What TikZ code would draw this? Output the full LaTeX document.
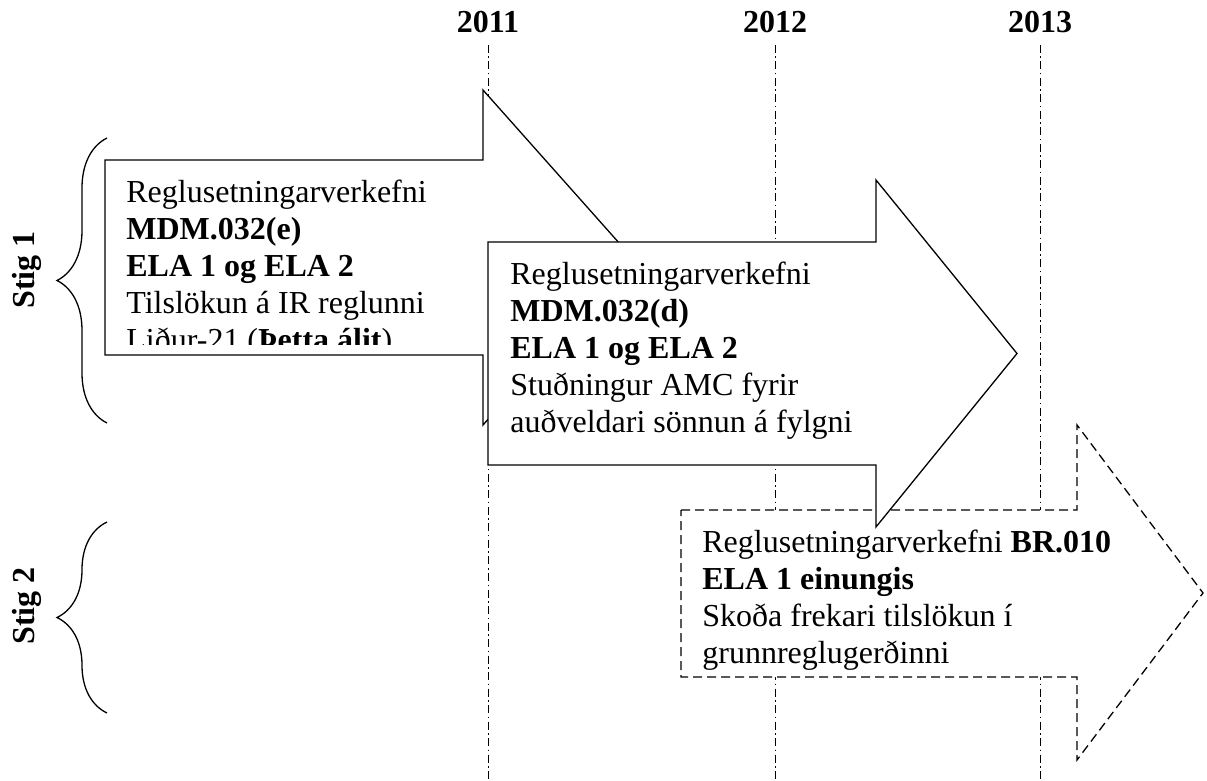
\documentclass[tikz,border=0pt]{standalone}
\usepackage{fontspec}
\setmainfont{Liberation Serif}
\usetikzlibrary{decorations.pathreplacing}

\begin{document}
\begin{tikzpicture}[x=0.5pt, y=-0.5pt,
    yearline/.style={line width=0.5pt, dash pattern=on 4pt off 1.75pt on 0.75pt off 1.75pt},
    arrowbox/.style={line width=0.65pt, fill=white, line join=miter},
    boxtext/.style={anchor=north west, inner sep=0pt, align=left, font=\fontsize{16}{18.5}\selectfont},
    boldlabel/.style={anchor=base, inner sep=0pt, font=\fontsize{16}{18.5}\selectfont\bfseries}]
\useasboundingbox (0,0) rectangle (1207,781);
% years and their lines
\foreach \yr/\xx in {2011/488, 2012/775, 2013/1040} {
    \node (y\yr) [boldlabel] at (\xx,33) {\yr};
    \draw [yearline] (\xx,45) -- (\xx,781);
}
% stages
\draw [line width=0.65pt, decorate, decoration={brace, amplitude=25pt}] (107,423) -- (107,138);
\draw [line width=0.65pt, decorate, decoration={brace, amplitude=25pt}] (107,713) -- (107,522);
\node (stig1) [boldlabel, rotate=90] at (34,270) {Stig 1};
\node (stig2) [boldlabel, rotate=90] at (34,606) {Stig 2};
% third arrow, dashed
\draw [arrowbox, dash pattern=on 4.5pt off 2.5pt] (681,510) -- (1077,510) -- (1077,425)
    -- (1203,593) -- (1077,760) -- (1077,677) -- (681,677) -- cycle;
\node (br010) [boxtext] at (702,526) {\strut Reglusetningarverkefni \textbf{BR.010}\\
    \textbf{ELA 1 einungis}\\ Skoða frekari tilslökun í\\ grunnreglugerðinni};
% first arrow
\draw [arrowbox] (105,160) -- (483,160) -- (483,90) -- (632,257.5) -- (483,425)
    -- (483,355) -- (105,355) -- cycle;
\begin{scope}
    \clip (105,160) rectangle (483,345);
    \node (mdme) [boxtext] at (126,176) {\strut Reglusetningarverkefni\\
        \textbf{MDM.032(e)}\\ \textbf{ELA 1 og ELA 2}\\ Tilslökun á IR reglunni\\
        Liður-21 (\textbf{Þetta álit})};
\end{scope}
% second arrow
\draw [arrowbox] (488,242) -- (876,242) -- (876,180) -- (1017,353.5) -- (876,527)
    -- (876,465) -- (488,465) -- cycle;
\node (mdmd) [boxtext] at (510,258) {\strut Reglusetningarverkefni\\
    \textbf{MDM.032(d)}\\ \textbf{ELA 1 og ELA 2}\\ Stuðningur AMC fyrir\\
    auðveldari sönnun á fylgni};
\end{tikzpicture}
\end{document}
